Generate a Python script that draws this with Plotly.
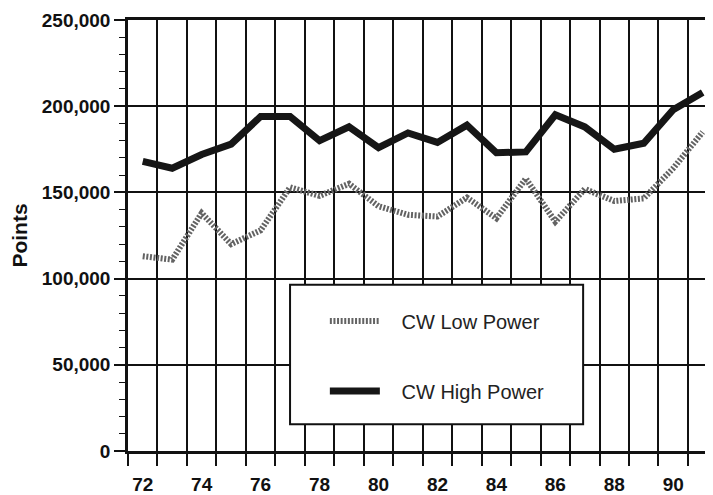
import plotly.graph_objects as go

years = list(range(72, 92))
cw_low = [113000, 111000, 138000, 120000, 128000, 153000, 148000, 155000, 142000, 137000,
          136000, 147000, 135000, 158000, 133000, 152000, 145000, 146500, 164000, 185000]
cw_high = [168000, 164000, 172000, 178000, 194000, 194000, 180000, 188000, 176000, 184500,
           179000, 189000, 173000, 173500, 195000, 188000, 175000, 178500, 198000, 208000]
x_labels = [72, 74, 76, 78, 80, 82, 84, 86, 88, 90]

nb = '\u00a0'
fig = go.Figure()

fig.add_trace(go.Scatter(
    x=years, y=cw_low, name=nb * 3 + 'CW Low Power', mode='lines',
    line=dict(color='#636363', width=6, dash='2px,1.6px'),
    legendgroup='low'
))
fig.add_trace(go.Scatter(
    x=years, y=cw_high, name=nb * 3 + 'CW High Power', mode='lines',
    line=dict(color='#161616', width=7),
    legendgroup='high'
))

# page body has an 8px margin, so the figure is a bit smaller than the window
fig.update_layout(
    width=705, height=487,
    margin=dict(l=120, r=0, t=12, b=39),
    paper_bgcolor='white', plot_bgcolor='white',
    font=dict(family='Liberation Sans, Arial, sans-serif', color='#111'),
    showlegend=True,
    legend=dict(
        x=0.3365, y=0.347, xanchor='left', yanchor='top',
        bgcolor='rgba(0,0,0,0)', borderwidth=0,
        font=dict(size=20, color='#222'),
        traceorder='grouped', tracegroupgap=41, itemwidth=50
    ),
    shapes=[dict(
        type='rect', xref='paper', yref='paper',
        x0=0.277, x1=0.778, y0=0.062, y1=0.386,
        line=dict(color='#111', width=2), fillcolor='white', layer='above'
    )]
)

fig.update_xaxes(
    range=[71.5, 91.35],
    tickvals=x_labels, ticktext=['<b>%d</b>' % v for v in x_labels],
    tickfont=dict(size=19, family='Liberation Sans, Arial, sans-serif'),
    ticks='outside', ticklen=14, tickcolor='rgba(0,0,0,0)',
    showgrid=False, zeroline=False,
    showline=True, linecolor='#111', linewidth=2.5, mirror=True,
    minor=dict(tick0=71.5, dtick=1, showgrid=True, gridcolor='#111', gridwidth=1.5,
               ticks='outside', ticklen=12, tickcolor='#111', tickwidth=1.5)
)
fig.update_yaxes(
    range=[0, 250000], dtick=50000, tickformat=',',
    tickfont=dict(size=19, family='Liberation Sans, Arial, sans-serif', weight='bold'),
    ticks='outside', ticklen=11, tickcolor='#111', tickwidth=1.5,
    showgrid=True, gridcolor='#111', gridwidth=1.5, zeroline=False,
    showline=True, linecolor='#111', linewidth=2.5,
    minor=dict(dtick=10000, ticks='outside', ticklen=6, tickcolor='#111', tickwidth=1.2),
    title=dict(text='<b>Points</b>', font=dict(size=21), standoff=14)
)

fig.write_html('out.html')
